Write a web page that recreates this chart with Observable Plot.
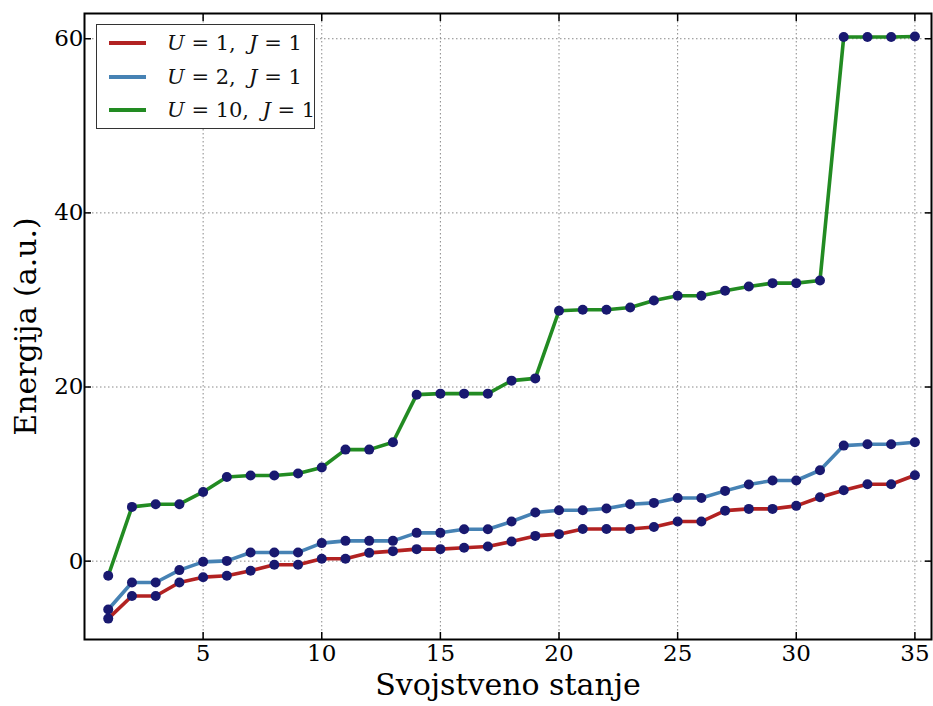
<!DOCTYPE html>
<html>
<head>
<meta charset="utf-8">
<script src="https://cdn.jsdelivr.net/npm/d3@7"></script>
<script src="https://cdn.jsdelivr.net/npm/@observablehq/plot@0.6"></script>
<style>
  html, body { margin: 0; padding: 0; background: #fff; }
  #wrap { position: relative; width: 933px; height: 706px; }
  #legend { position: absolute; left: 96px; top: 24px; width: 219px; height: 105px;
    border: 1px solid #333; background: #fff; box-sizing: border-box;
    font-family: "DejaVu Serif", serif; font-size: 21px; color: #111; }
  .row { position: absolute; left: 0; height: 24px; width: 100%; }
  .sw { position: absolute; left: 12px; width: 37px; height: 4px; }
  .lab { position: absolute; left: 70px; white-space: pre; line-height: 24px; }
  .lab i { font-style: italic; }
</style>
</head>
<body>
<div id="wrap"></div>
<script>
const states = [1,2,3,4,5,6,7,8,9,10,11,12,13,14,15,16,17,18,19,20,21,22,23,24,25,26,27,28,29,30,31,32,33,34,35];
const energyU1 = [-6.6,-4.0,-4.0,-2.45,-1.84,-1.68,-1.1,-0.42,-0.42,0.27,0.27,0.95,1.15,1.38,1.38,1.53,1.68,2.26,2.9,3.1,3.7,3.7,3.7,3.93,4.55,4.55,5.8,6.0,6.0,6.35,7.34,8.15,8.83,8.83,9.87];
const energyU2 = [-5.55,-2.45,-2.45,-1.03,-0.08,0.03,1.0,1.0,1.0,2.07,2.33,2.33,2.33,3.25,3.25,3.67,3.67,4.55,5.58,5.85,5.85,6.04,6.54,6.69,7.26,7.26,8.07,8.8,9.26,9.26,10.44,13.27,13.42,13.42,13.65];
const energyU10 = [-1.68,6.23,6.54,6.54,7.95,9.67,9.83,9.83,10.06,10.75,12.81,12.81,13.65,19.12,19.24,19.24,19.24,20.73,20.99,28.76,28.87,28.87,29.14,29.94,30.48,30.48,31.05,31.55,31.93,31.93,32.24,60.2,60.2,60.2,60.25];
const seriesNames = ["U = 1,  J = 1", "U = 2,  J = 1", "U = 10,  J = 1"];
const seriesColors = ["#b22222", "#4682b4", "#228b22"];
const xTicks = [5,10,15,20,25,30,35];
const yTicks = [0,20,40,60];

const allSeries = [energyU1, energyU2, energyU10];
const lineMarks = [];
allSeries.forEach((vals, k) => {
  const data = states.map((s, i) => ({state: s, energy: vals[i]}));
  lineMarks.push(Plot.line(data, {x: "state", y: "energy", stroke: seriesColors[k], strokeWidth: 3.6}));
  lineMarks.push(Plot.dot(data, {x: "state", y: "energy", r: 5, fill: "#191970", stroke: "none"}));
});

const chart = Plot.plot({
  width: 933,
  height: 706,
  marginLeft: 84,
  marginRight: 2,
  marginTop: 13,
  marginBottom: 67,
  style: {fontFamily: "'DejaVu Serif', serif", fontSize: "23px", color: "#000", background: "#fff"},
  x: {domain: [0, 35.7]},
  y: {domain: [-9, 62.9]},
  marks: [
    Plot.gridX(xTicks, {stroke: "#888", strokeOpacity: 1, strokeDasharray: "1.5,2.5", strokeWidth: 1}),
    Plot.gridY(yTicks, {stroke: "#888", strokeOpacity: 1, strokeDasharray: "1.5,2.5", strokeWidth: 1}),
    ...lineMarks,
    Plot.axisX(xTicks, {anchor: "bottom", tickSize: -7, tickPadding: 12, strokeWidth: 1.5, label: "Svojstveno stanje", labelAnchor: "center", labelArrow: "none", labelOffset: 55, fontSize: 23}),
    Plot.axisX(xTicks, {anchor: "top", tickSize: -7, strokeWidth: 1.5, tickFormat: () => "", label: null}),
    Plot.axisY(yTicks, {anchor: "left", tickSize: -7, tickPadding: 8, strokeWidth: 1.5, label: "Energija (a.u.)", labelAnchor: "center", labelArrow: "none", labelOffset: 70, fontSize: 23}),
    Plot.axisY(yTicks, {anchor: "right", tickSize: -7, strokeWidth: 1.5, tickFormat: () => "", label: null}),
    Plot.frame({stroke: "#000", strokeWidth: 2})
  ]
});

const wrap = document.getElementById("wrap");
wrap.appendChild(chart);

chart.querySelectorAll("g[aria-label='x-axis label'] text, g[aria-label='y-axis label'] text").forEach(t => {
  t.setAttribute("font-size", "30px");
  t.style.fontSize = "30px";
});

const legend = document.createElement("div");
legend.id = "legend";
seriesNames.forEach((name, k) => {
  const row = document.createElement("div");
  row.className = "row";
  row.style.top = (6 + k * 33.5) + "px";
  const sw = document.createElement("div");
  sw.className = "sw";
  sw.style.background = seriesColors[k];
  sw.style.top = "10px";
  const lab = document.createElement("div");
  lab.className = "lab";
  const m = name.match(/^U = (\d+),  J = (\d+)$/);
  lab.innerHTML = `<i>U</i> = ${m[1]},  <i>J</i> = ${m[2]}`;
  row.appendChild(sw);
  row.appendChild(lab);
  legend.appendChild(row);
});
wrap.appendChild(legend);
</script>
</body>
</html>
